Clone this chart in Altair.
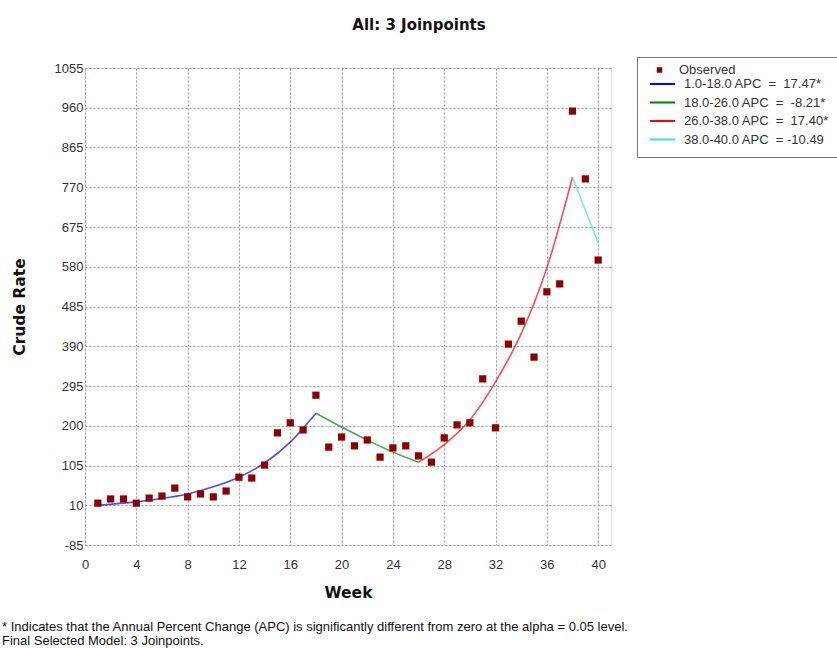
import altair as alt
import pandas as pd

FONT = "Liberation Sans"
BOLD = "DejaVu Sans"

# ---- data ----
weeks = list(range(1, 41))
observed = [15, 25, 25, 15, 27, 32, 51, 30, 37, 30, 44, 77, 75, 106, 183, 207, 190, 273,
            149, 173, 152, 166, 125, 147, 152, 128, 113, 171, 202, 207, 312, 195, 395, 450,
            364, 520, 539, 952, 790, 596]

seg_names = [
    "1.0-18.0 APC\u00a0 =\u00a0 17.47*",
    "18.0-26.0 APC\u00a0 =\u00a0 -8.21*",
    "26.0-38.0 APC\u00a0 =\u00a0 17.40*",
    "38.0-40.0 APC\u00a0 = -10.49",
]
seg_weeks = [
    [1, 4, 6, 8, 10, 12, 14, 16, 18],
    [18, 20, 22, 24, 26],
    [26, 28, 30, 32, 34, 36, 38],
    [38, 40],
]
seg_values = [
    [10, 18, 26, 37, 54, 77, 111, 161, 230],
    [230, 197, 166, 137, 113],
    [113, 155, 214, 305, 420, 577, 794],
    [794, 637],
]
seg_colors = ["#0000ff", "#008000", "#ff0000", "#40e0d0"]
obs_name = "Observed"
obs_color = "#8b0000"

y_ticks = [-85, 10, 105, 200, 295, 390, 485, 580, 675, 770, 865, 960, 1055]
x_ticks = [0, 4, 8, 12, 16, 20, 24, 28, 32, 36, 40]

footnote = ("* Indicates that the Annual Percent Change (APC) is significantly different "
            "from zero at the alpha = 0.05 level.\nFinal Selected Model: 3 Joinpoints.")

# ---- tables ----
obs_df = pd.DataFrame({"week": weeks, "rate": observed, "series": obs_name})
rows = []
for name, ws, vs in zip(seg_names, seg_weeks, seg_values):
    for w, v in zip(ws, vs):
        rows.append({"week": w, "rate": v, "series": name})
fit_df = pd.DataFrame(rows)
note_df = pd.DataFrame({"note": [footnote]})

x_enc = alt.X("week:Q", scale=alt.Scale(domain=[0, 41], nice=False, zero=False),
              axis=alt.Axis(values=x_ticks, title="Week", labelFont=FONT, labelFontSize=13,
                            titleFont=BOLD, titleFontSize=15.5, titleFontWeight="bold",
                            labelPadding=13, titlePadding=14, ticks=False, domain=False,
                            gridColor="#999", gridDash=[2, 2], labelColor="#333",
                            titleColor="#111", labelFlush=False))
y_enc = alt.Y("rate:Q", scale=alt.Scale(domain=[-85, 1055], nice=False, zero=False),
              axis=alt.Axis(values=y_ticks, title="Crude Rate", labelFont=FONT, labelFontSize=13,
                            labelExpr="'' + datum.value",
                            titleFont=BOLD, titleFontSize=15.5, titleFontWeight="bold",
                            labelPadding=2, titlePadding=27, ticks=False, domain=False,
                            gridColor="#999", gridDash=[2, 2], labelColor="#333",
                            titleColor="#111", labelFlush=False))

line_legend = alt.Legend(
    title="\u00a0", titleFont=FONT, titleFontSize=9, titlePadding=1.5,
    orient="none", legendX=552, legendY=-11,
    labelFont=FONT, labelFontSize=13, labelColor="#333",
    symbolType="stroke", symbolSize=625, symbolStrokeWidth=2, symbolOpacity=1,
    symbolOffset=2, labelOffset=8, rowPadding=4.5, clipHeight=13,
    padding=10, strokeColor="#777", fillColor="white", zindex=1,
)
obs_legend = alt.Legend(
    title=None, orient="none", legendX=552, legendY=-14.5,
    labelFont=FONT, labelFontSize=13, labelColor="#333",
    symbolType="square", symbolSize=30, symbolOpacity=1, symbolOffset=6,
    labelOffset=13, padding=10, clipHeight=13, zindex=2,
)

lines = alt.Chart(fit_df).mark_line(strokeWidth=1.6, opacity=0.7, interpolate="monotone").encode(
    x=x_enc, y=y_enc,
    stroke=alt.Stroke("series:N", scale=alt.Scale(domain=seg_names, range=seg_colors),
                      legend=line_legend),
    detail="series:N")
points = alt.Chart(obs_df).mark_square(size=52, opacity=1, filled=True).encode(
    x=x_enc, y=y_enc,
    fill=alt.Fill("series:N", scale=alt.Scale(domain=[obs_name], range=[obs_color]),
                  legend=obs_legend))
note = alt.Chart(note_df).mark_text(
    align="left", baseline="middle", font=FONT, fontSize=13, lineBreak="\n",
    lineHeight=14, color="#111").encode(
    x=alt.value(-83), y=alt.value(559), text="note:N")

chart = alt.layer(lines, points, note).properties(
    width=526, height=477,
    title=alt.Title("All: 3 Joinpoints", font=BOLD, fontSize=15, fontWeight="bold",
                    anchor="middle", dx=71, offset=21, color="#111"),
    autosize=alt.AutoSizeParams(type="none"),
    padding={"left": 85, "top": 68, "right": 226, "bottom": 103},
).configure_view(stroke="#666", strokeWidth=2).configure(background="white")

chart.save("out.html", embed_options={"renderer": "svg", "actions": False})
